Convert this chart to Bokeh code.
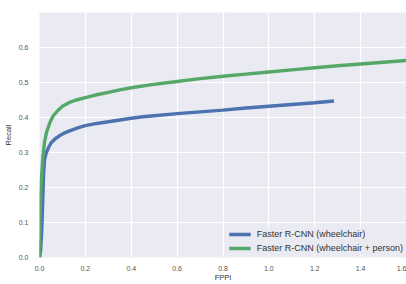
from bokeh.plotting import figure
from bokeh.models import FixedTicker, Range1d, Legend, LegendItem
from bokeh.embed import file_html
from bokeh.resources import INLINE

# Data
fppi_wheelchair = [0.0, 0.005, 0.010, 0.015, 0.018, 0.022, 0.030, 0.040, 0.051, 0.070,
                   0.090, 0.109, 0.140, 0.170, 0.200, 0.250, 0.300, 0.350, 0.400, 0.450,
                   0.500, 0.600, 0.700, 0.800, 0.900, 1.000, 1.100, 1.200, 1.284]
recall_wheelchair = [0.0, 0.02, 0.08, 0.18, 0.24, 0.28, 0.300, 0.315, 0.328, 0.340,
                     0.349, 0.356, 0.364, 0.371, 0.377, 0.383, 0.388, 0.393, 0.398, 0.402,
                     0.405, 0.411, 0.416, 0.421, 0.427, 0.432, 0.437, 0.442, 0.447]

fppi_person = [0.0, 0.003, 0.008, 0.015, 0.022, 0.030, 0.045, 0.060, 0.080, 0.100,
               0.130, 0.160, 0.200, 0.250, 0.300, 0.350, 0.400, 0.490, 0.600, 0.700,
               0.800, 0.900, 1.000, 1.100, 1.200, 1.300, 1.400, 1.500, 1.600]
recall_person = [0.0, 0.14, 0.22, 0.29, 0.33, 0.356, 0.385, 0.405, 0.420, 0.432,
                 0.443, 0.450, 0.457, 0.465, 0.472, 0.479, 0.485, 0.494, 0.503, 0.511,
                 0.518, 0.524, 0.530, 0.536, 0.542, 0.548, 0.553, 0.558, 0.563]

x_ticks = [0.0, 0.2, 0.4, 0.6, 0.8, 1.0, 1.2, 1.4, 1.6]
y_ticks = [0.0, 0.1, 0.2, 0.3, 0.4, 0.5, 0.6]
labels = ["Faster R-CNN (wheelchair)", "Faster R-CNN (wheelchair + person)"]
colors = ["#4C72B0", "#55A868"]

FONT = "Liberation Sans"
TXT = "#333333"
TICK = "#555555"

p = figure(width=406, height=284, output_backend="svg", toolbar_location=None,
           x_range=Range1d(0, 1.6), y_range=Range1d(0, 0.7),
           min_border_left=39, min_border_right=0, min_border_top=12, min_border_bottom=0)
p.background_fill_color = "#EAEAF2"
p.border_fill_color = "white"
p.outline_line_color = None

for ax in (p.xaxis, p.yaxis):
    ax.axis_line_color = None
    ax.major_tick_line_color = None
    ax.minor_tick_line_color = None
    ax.major_label_text_font = FONT
    ax.major_label_text_font_size = "7px"
    ax.major_label_text_color = TICK
    ax.axis_label_text_font = FONT
    ax.axis_label_text_font_size = "7.5px"
    ax.axis_label_text_font_style = "normal"
    ax.axis_label_text_color = TXT

p.xaxis.ticker = FixedTicker(ticks=x_ticks)
p.yaxis.ticker = FixedTicker(ticks=y_ticks)
p.xaxis.major_label_overrides = {t: f"{t:.1f}" for t in x_ticks}
p.yaxis.major_label_overrides = {t: f"{t:.1f}" for t in y_ticks}
p.xaxis.axis_label = "FPPI"
p.yaxis.axis_label = "Recall"
p.xaxis.major_label_standoff = 2
p.xaxis.axis_label_standoff = -1
p.yaxis.major_label_standoff = 5
p.yaxis.axis_label_standoff = 3

p.grid.grid_line_color = "white"
p.grid.grid_line_width = 1.2

r1 = p.line(fppi_wheelchair, recall_wheelchair, line_color=colors[0], line_width=3.4)
r2 = p.line(fppi_person, recall_person, line_color=colors[1], line_width=3.4)

legend = Legend(items=[LegendItem(label=labels[0], renderers=[r1]),
                       LegendItem(label=labels[1], renderers=[r2])],
                location="bottom_right")
legend.background_fill_color = "#EAEAF2"
legend.background_fill_alpha = 1.0
legend.border_line_color = None
legend.label_text_font = FONT
legend.label_text_font_size = "9px"
legend.label_text_color = TXT
legend.glyph_width = 22
legend.glyph_height = 12
legend.label_height = 12
legend.spacing = 2
legend.padding = 3
legend.margin = 3
legend.label_standoff = 6
p.add_layout(legend)

open("out.html", "w").write(file_html(p, INLINE))
